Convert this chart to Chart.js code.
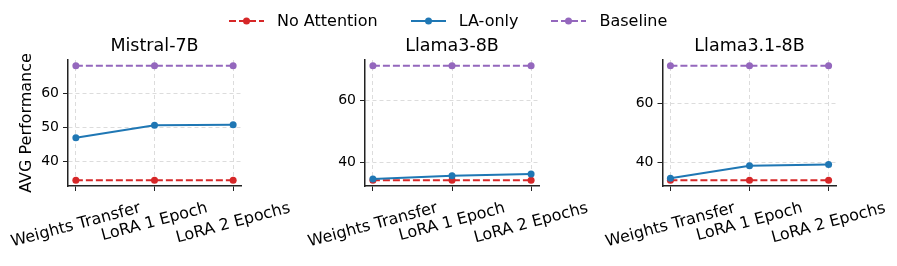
<!DOCTYPE html>
<html>
<head>
<meta charset="utf-8">
<script src="https://cdn.jsdelivr.net/npm/chart.js@4.4.1/dist/chart.umd.min.js"></script>
<style>
  html, body { margin: 0; padding: 0; background: #fff; }
  #wrap { position: relative; width: 897px; height: 266px; overflow: hidden; font-family: "DejaVu Sans", sans-serif; }
  #wrap canvas { position: absolute; left: 0; top: 0; }
  #legend { position: absolute; left: 229px; top: 11px; display: flex; align-items: center; font-size: 16px; line-height: 20px; color: #000; white-space: nowrap; }
  .item { display: flex; align-items: center; margin-right: 33px; }
  .item:last-child { margin-right: 0; }
  .item svg { margin-right: 13px; }
</style>
</head>
<body>
<div id="wrap">
  <canvas id="c0" width="897" height="266"></canvas>
  <canvas id="c1" width="897" height="266"></canvas>
  <canvas id="c2" width="897" height="266"></canvas>
  <div id="legend"></div>
</div>
<script>
// ── Data ───────────────────────────────────────────────────────
const categories  = ["Weights Transfer", "LoRA 1 Epoch", "LoRA 2 Epochs"];
const models      = ["Mistral-7B", "Llama3-8B", "Llama3.1-8B"];
const noAttention = [[34.4, 34.4, 34.4], [34.3, 34.3, 34.3], [34.1, 34.1, 34.1]];
const laOnly      = [[46.9, 50.6, 50.7], [34.7, 35.8, 36.3], [34.8, 39.0, 39.4]];
const baseline    = [[68.1, 68.1, 68.1], [71.3, 71.3, 71.3], [72.6, 72.6, 72.6]];
const yTicks      = [[40, 50, 60], [40, 60], [40, 60]];

const seriesNames  = ["No Attention", "LA-only", "Baseline"];
const seriesColors = ["#d62728", "#1f77b4", "#9467bd"];
const seriesDash   = [[7, 3], [], [7, 3]];

// ── Layout ─────────────────────────────────────────────────────
const W = 897, H = 266;
const areaLeft  = [68, 365, 662.5];
const areaRight = [241, 539, 836.5];
const areaBottom = 186;

Chart.defaults.font.family = "'DejaVu Sans', sans-serif";
Chart.defaults.color = "#000";

// matplotlib-like autoscale (5% margin)
function yRange(p) {
  const all = [...noAttention[p], ...laOnly[p], ...baseline[p]];
  const lo = Math.min(...all), hi = Math.max(...all), m = (hi - lo) * 0.05;
  return [lo - m, hi + m];
}

// rotated x labels centred under the tick
const xLabels = {
  id: "xLabels",
  afterDraw(chart) {
    const { ctx, chartArea } = chart;
    const xs = chart.scales.x;
    const a = 15 * Math.PI / 180;
    ctx.save();
    ctx.font = "16px 'DejaVu Sans'";
    ctx.fillStyle = "#000";
    ctx.textAlign = "center";
    ctx.textBaseline = "middle";
    categories.forEach((c, i) => {
      const w  = ctx.measureText(c).width;
      const bh = w * Math.sin(a) + 18.6 * Math.cos(a);
      ctx.save();
      ctx.translate(xs.getPixelForValue(i), chartArea.bottom + 13 + bh / 2);
      ctx.rotate(-a);
      ctx.fillText(c, 0, 0);
      ctx.restore();
    });
    ctx.restore();
  }
};

const gridOpts   = { color: "#dcdcdc", lineWidth: 1, tickColor: "#222", tickLength: 5, tickWidth: 1 };
const borderOpts = { color: "#222", width: 1.5, dash: [4, 3] };

models.forEach((m, p) => {
  const [ymin, ymax] = yRange(p);
  const yw = p === 0 ? 68 : 45;
  const sets = [noAttention[p], laOnly[p], baseline[p]];

  new Chart(document.getElementById("c" + p), {
    type: "line",
    data: {
      datasets: sets.map((vals, k) => ({
        label: seriesNames[k],
        data: vals.map((v, i) => ({ x: i, y: v })),
        borderColor: seriesColors[k], backgroundColor: seriesColors[k],
        borderWidth: 2, borderDash: seriesDash[k],
        pointRadius: 3.5, pointBorderWidth: 0, pointBackgroundColor: seriesColors[k],
        order: 3 - k, tension: 0, clip: false,
      })),
    },
    options: {
      responsive: false, animation: false, events: [],
      layout: { padding: { left: areaLeft[p] - yw, right: W - areaRight[p], top: 35.5, bottom: 0 } },
      plugins: {
        legend: { display: false },
        tooltip: { enabled: false },
        title: {
          display: true, text: m, fullSize: false, color: "#000",
          font: { size: 17.5, weight: "normal" }, padding: { top: 0, bottom: 3.5 },
        },
      },
      scales: {
        x: {
          type: "linear", min: -0.1, max: 2.1,
          afterBuildTicks: s => { s.ticks = categories.map((c, i) => ({ value: i })); },
          afterFit: s => { s.height = H - areaBottom; },
          ticks: { display: false },
          grid: gridOpts, border: borderOpts,
        },
        y: {
          type: "linear", min: ymin, max: ymax,
          afterBuildTicks: s => { s.ticks = yTicks[p].map(v => ({ value: v })); },
          afterFit: s => { s.width = yw; },
          ticks: { color: "#000", font: { size: 14 }, padding: 4 },
          grid: gridOpts, border: borderOpts,
          title: {
            display: p === 0, text: "AVG Performance", color: "#000",
            font: { size: 16 }, padding: { top: 17, bottom: 0 },
          },
        },
      },
    },
    plugins: [xLabels],
  });
});

// ── Legend ─────────────────────────────────────────────────────
const legendEl = document.getElementById("legend");
seriesNames.forEach((n, k) => {
  legendEl.insertAdjacentHTML("beforeend",
    `<div class="item"><svg width="35" height="10"><line x1="0" y1="5" x2="35" y2="5" stroke="${seriesColors[k]}" stroke-width="2" stroke-dasharray="${seriesDash[k].join(" ")}"/><circle cx="17.5" cy="5" r="3.5" fill="${seriesColors[k]}"/></svg><span>${n}</span></div>`);
});
</script>
</body>
</html>
